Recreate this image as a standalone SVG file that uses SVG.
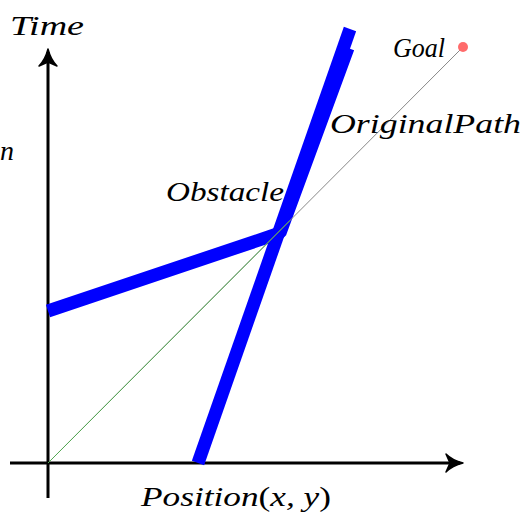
<svg xmlns="http://www.w3.org/2000/svg" width="526" height="516" viewBox="0 0 526 516">
<style>
.lbl{font-family:"Liberation Serif","DejaVu Serif",serif;font-style:italic;font-size:28px;fill:#000}
.up{font-style:normal}
.axis{stroke:#000;stroke-width:3;fill:none}
.obs{stroke:#0000ff;stroke-width:13;fill:none;stroke-linejoin:bevel}
</style>
<rect width="526" height="516" fill="#fff"/>
<g id="axes">
<line class="axis" x1="48" y1="498" x2="48" y2="52"/>
<path d="M48,49 C46,57 43,62 39,66 L48,62 L57,66 C53,62 50,57 48,49 Z" fill="#000" stroke="#000" stroke-width="1.5" stroke-linejoin="round"/>
<line class="axis" x1="10" y1="463" x2="460" y2="463"/>
<path d="M463,463 C455,461 450,458 446,454 L450,463 L446,472 C450,468 455,465 463,463 Z" fill="#000" stroke="#000" stroke-width="1.5" stroke-linejoin="round"/>
</g>
<g id="obstacle">
<polyline class="obs" points="48,311 280,233 348,48"/>
<line class="obs" x1="198" y1="463" x2="350" y2="29"/>
</g>
<g id="connectors">
<line x1="48" y1="463" x2="463" y2="47" stroke="#888" stroke-width="1"/>
<line x1="48" y1="463" x2="290" y2="220.5" stroke="#55aa55" stroke-width="1"/>
</g>
<g id="goal">
<circle cx="463" cy="47" r="5" fill="#ff6b6b"/>
<text class="lbl" x="393" y="57" textLength="52" lengthAdjust="spacingAndGlyphs">Goal</text>
</g>
<text class="lbl" x="10" y="35" textLength="74" lengthAdjust="spacingAndGlyphs">Time</text>
<text class="lbl" x="0" y="160">n</text>
<text class="lbl" x="330" y="133" textLength="191" lengthAdjust="spacingAndGlyphs">OriginalPath</text>
<text class="lbl" x="166" y="201" textLength="118" lengthAdjust="spacingAndGlyphs">Obstacle</text>
<text class="lbl" x="141" y="506" textLength="190" lengthAdjust="spacingAndGlyphs">Position<tspan class="up">(</tspan>x, y<tspan class="up">)</tspan></text>
</svg>
